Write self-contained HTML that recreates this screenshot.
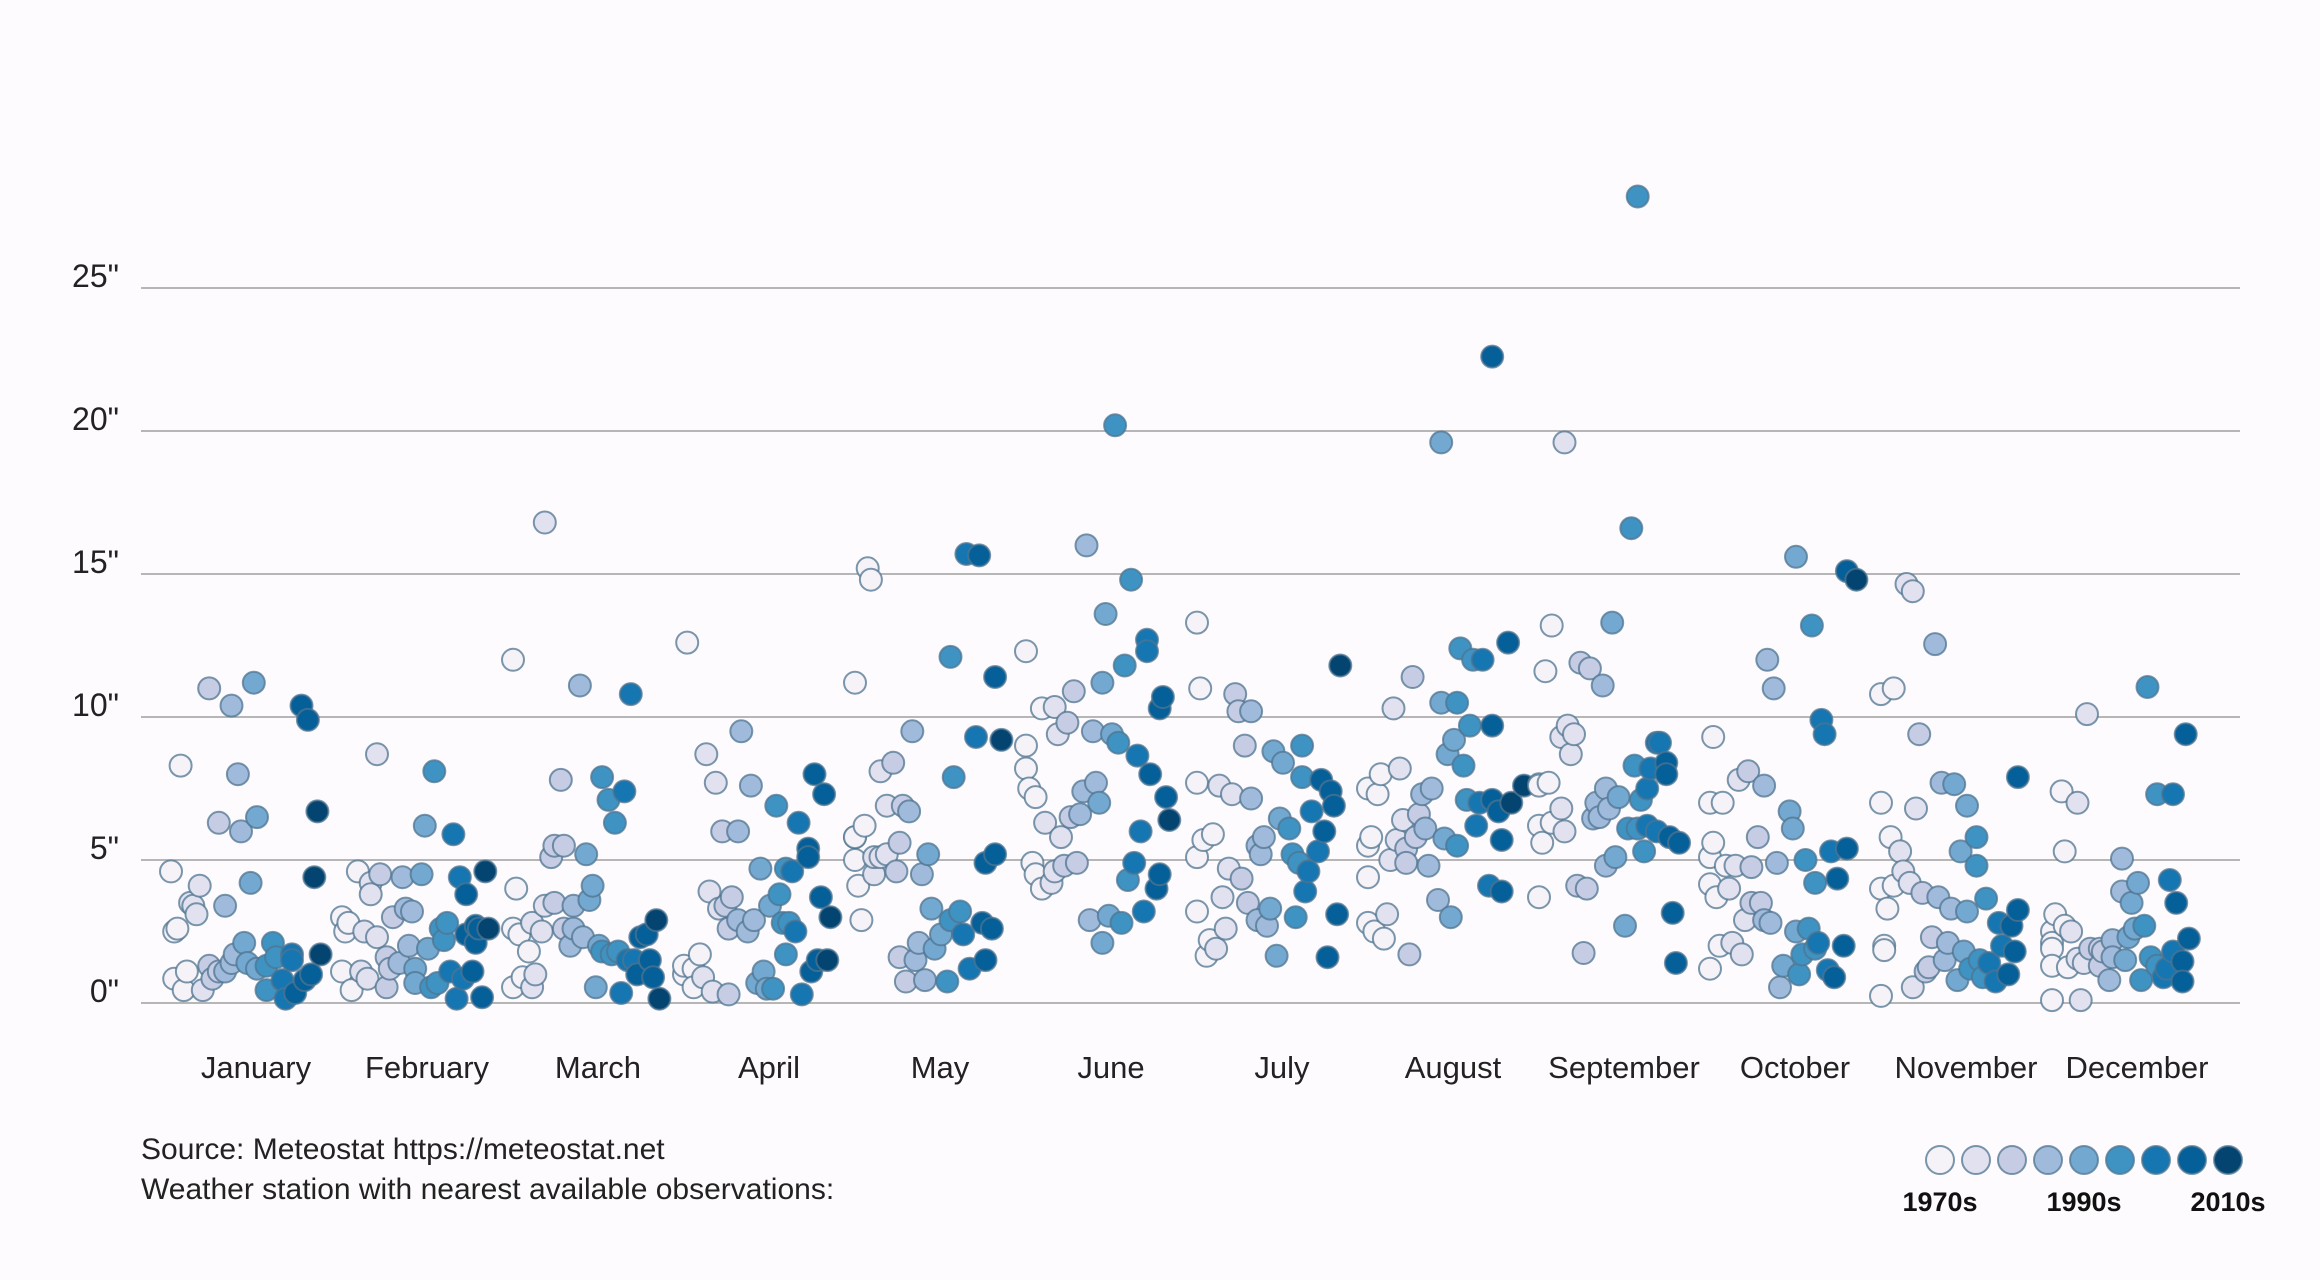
<!DOCTYPE html>
<html><head><meta charset="utf-8">
<style>
html,body{margin:0;padding:0;background:#fdfbfd;}
svg{display:block;font-family:"Liberation Sans",sans-serif;}
</style></head>
<body>
<svg id="chart" width="2320" height="1280" viewBox="0 0 2320 1280" xmlns="http://www.w3.org/2000/svg">
<rect width="2320" height="1280" fill="#fdfbfd"/>
<g id="grid"></g>
<g id="ylabels"></g>
<g id="xlabels"></g>
<g id="dots"></g>
<text x="141" y="1159" font-size="30" fill="#222">Source: Meteostat https://meteostat.net</text>
<text x="141" y="1199" font-size="30" fill="#222">Weather station with nearest available observations:</text>
<g id="legend"></g>
</svg>
<script>
const months = ["January","February","March","April","May","June","July","August","September","October","November","December"];
const yTicks = [0,5,10,15,20,25];
const yTickLabels = ['0"','5"','10"','15"','20"','25"'];
const shades = ["#f5f2f8","#e2e1ef","#c5cce4","#a0badb","#73a8d0","#3f93c3","#1676b1","#055f98","#034470"];
const legendLabels = ["1970s","1990s","2010s"];
// [year index since 1970, inches]
const jan = [[3,8.3],[12,11.0],[19,10.4],[26,11.2],[41,10.4],[43,9.9],[21,8.0],[15,6.3],[22,6.0],[27,6.5],[46,6.7],[0,4.6],[9,4.1],[25,4.2],[45,4.4],[17,3.4],[6,3.5],[7,3.4],[8,3.1],[2,2.6],[1,2.5],[47,1.7],[1,0.85],[5,1.1],[4,0.45],[10,0.45],[12,1.3],[15,1.1],[17,1.1],[19,1.4],[20,1.7],[23,2.1],[24,1.4],[27,1.2],[30,1.3],[32,2.1],[33,1.6],[30,0.45],[35,0.8],[36,0.15],[38,1.7],[39,0.35],[42,0.8],[44,1.0],[38,1.5],[13,0.85]];
const feb = [[11,8.7],[29,8.1],[26,6.2],[35,5.9],[5,4.6],[12,4.5],[9,4.2],[9,3.8],[19,4.4],[25,4.5],[37,4.4],[39,3.8],[45,4.6],[0,3.0],[2,2.8],[1,2.5],[7,2.5],[11,2.3],[16,3.0],[20,3.3],[22,3.2],[33,2.8],[31,2.6],[32,2.2],[39,2.4],[42,2.1],[46,2.6],[43,2.6],[42,2.7],[21,2.0],[27,1.9],[14,1.6],[15,1.2],[18,1.4],[23,1.2],[0,1.1],[6,1.1],[8,0.85],[3,0.45],[14,0.55],[23,0.7],[28,0.55],[30,0.7],[34,1.1],[38,0.85],[41,1.1],[36,0.15],[44,0.2]];
const mar = [[10,16.8],[0,12.0],[21,11.1],[37,10.8],[15,7.8],[28,7.9],[35,7.4],[30,7.1],[32,6.3],[12,5.1],[13,5.5],[16,5.5],[23,5.2],[25,4.1],[24,3.6],[1,4.0],[10,3.4],[13,3.5],[19,3.4],[0,2.6],[2,2.4],[6,2.8],[9,2.5],[5,1.8],[16,2.6],[19,2.6],[22,2.3],[18,2.0],[27,2.0],[28,1.8],[31,1.7],[33,1.8],[36,1.5],[38,1.5],[40,2.3],[42,2.4],[45,2.9],[43,1.5],[39,1.0],[44,0.9],[0,0.55],[3,0.9],[6,0.55],[7,1.0],[26,0.55],[34,0.35],[46,0.15]];
const apr = [[1,12.6],[18,9.5],[7,8.7],[10,7.7],[21,7.6],[29,6.9],[41,8.0],[44,7.3],[36,6.3],[39,5.4],[39,5.1],[32,4.7],[34,4.6],[24,4.7],[12,6.0],[17,6.0],[8,3.9],[11,3.3],[13,3.4],[15,3.7],[14,2.6],[17,2.9],[20,2.5],[22,2.9],[30,3.8],[27,3.4],[31,2.8],[33,2.8],[35,2.5],[43,3.7],[46,3.0],[32,1.7],[40,1.1],[42,1.5],[45,1.5],[0,1.0],[0,1.3],[3,1.2],[5,1.7],[6,0.9],[3,0.55],[9,0.4],[14,0.3],[23,0.7],[25,1.1],[26,0.5],[28,0.5],[37,0.3]];
const may = [[0,5.8],[4,15.2],[5,14.8],[0,11.2],[35,15.7],[39,15.65],[30,12.1],[44,11.4],[18,9.5],[38,9.3],[46,9.2],[12,8.4],[8,8.1],[31,7.9],[0,5.8],[3,6.2],[0,5.0],[1,4.1],[6,4.5],[6,5.1],[8,5.1],[10,5.2],[14,5.6],[13,4.6],[10,6.9],[15,6.9],[17,6.7],[23,5.2],[21,4.5],[41,4.9],[44,5.2],[2,2.9],[24,3.3],[20,2.1],[14,1.6],[19,1.5],[16,0.75],[22,0.8],[29,0.75],[25,1.9],[27,2.4],[30,2.9],[33,3.2],[34,2.4],[40,2.8],[43,2.6],[36,1.2],[41,1.5]];
const jun = [[28,20.2],[19,16.0],[33,14.8],[25,13.6],[38,12.7],[38,12.3],[31,11.8],[0,12.3],[24,11.2],[15,10.9],[43,10.7],[42,10.3],[5,10.3],[9,10.35],[13,9.8],[10,9.4],[21,9.5],[27,9.4],[29,9.1],[35,8.65],[39,8.0],[44,7.2],[45,6.4],[0,9.0],[0,8.2],[1,7.5],[3,7.2],[6,6.3],[11,5.8],[18,7.4],[22,7.7],[23,7.0],[14,6.5],[17,6.6],[36,6.0],[34,4.9],[32,4.3],[42,4.5],[41,4.0],[2,4.9],[3,4.5],[5,4.0],[8,4.2],[9,4.6],[12,4.8],[16,4.9],[20,2.9],[26,3.05],[30,2.8],[37,3.2],[24,2.1]];
const jul = [[0,13.3],[1,11.0],[12,10.8],[13,10.2],[17,10.2],[45,11.8],[15,9.0],[24,8.8],[27,8.4],[33,9.0],[33,7.9],[39,7.8],[42,7.4],[43,6.9],[36,6.7],[0,7.7],[7,7.6],[11,7.3],[17,7.15],[26,6.45],[29,6.1],[21,5.8],[19,5.5],[20,5.2],[30,5.2],[32,4.9],[35,4.6],[38,5.3],[40,6.0],[34,3.9],[5,5.9],[2,5.7],[0,5.1],[10,4.7],[14,4.35],[8,3.7],[16,3.5],[23,3.3],[19,2.9],[22,2.7],[31,3.0],[44,3.1],[0,3.2],[9,2.6],[4,2.2],[6,1.9],[3,1.65],[25,1.65],[41,1.6]];
const aug = [[23,19.6],[39,22.6],[0,5.5],[1,5.8],[0,4.4],[0,7.5],[3,7.3],[4,8.0],[10,8.2],[8,10.3],[14,11.4],[11,6.4],[16,6.6],[17,7.3],[20,7.5],[9,5.7],[12,5.4],[15,5.8],[18,6.1],[7,5.0],[12,4.9],[19,4.8],[24,5.75],[28,5.5],[0,2.8],[2,2.5],[6,3.1],[5,2.25],[13,1.7],[22,3.6],[26,3.0],[23,10.5],[28,10.5],[29,12.4],[33,12.0],[36,12.0],[44,12.6],[32,9.7],[39,9.7],[27,9.2],[25,8.7],[30,8.3],[31,7.1],[35,7.0],[39,7.1],[41,6.7],[45,7.0],[34,6.2],[42,5.7],[38,4.1],[42,3.9],[49,7.6]];
const sep = [[31,28.2],[8,19.6],[29,16.6],[4,13.2],[2,11.6],[23,13.3],[13,11.9],[16,11.7],[20,11.1],[9,9.7],[7,9.3],[11,9.4],[10,8.7],[0,7.65],[0,7.6],[3,7.7],[7,6.8],[4,6.3],[8,6.0],[0,6.2],[1,5.6],[0,3.7],[21,7.5],[18,7.0],[25,7.2],[22,6.8],[19,6.5],[17,6.45],[30,8.3],[37,9.1],[38,9.1],[40,8.4],[40,8.0],[35,8.2],[34,7.5],[32,7.1],[28,6.1],[31,6.1],[34,6.2],[37,6.0],[41,5.8],[44,5.6],[33,5.3],[24,5.1],[21,4.8],[12,4.1],[15,4.0],[27,2.7],[14,1.75],[42,3.15],[43,1.4]];
const oct = [[27,15.6],[43,15.1],[46,14.8],[1,9.3],[0,7.0],[4,7.0],[9,7.8],[12,8.1],[17,7.6],[1,5.6],[0,5.1],[5,4.8],[8,4.8],[13,4.75],[15,5.8],[0,4.15],[2,3.7],[6,4.0],[13,3.5],[16,3.5],[11,2.9],[17,2.9],[19,2.8],[3,2.0],[7,2.1],[10,1.7],[0,1.2],[18,12.0],[20,11.0],[32,13.2],[35,9.9],[36,9.4],[25,6.7],[26,6.1],[21,4.9],[30,5.0],[33,4.2],[38,5.3],[43,5.4],[40,4.35],[27,2.5],[31,2.6],[34,2.1],[33,1.9],[29,1.7],[23,1.3],[28,1.0],[22,0.55],[37,1.15],[39,0.9],[42,2.0]];
const nov = [[0,0.25],[1,2.0],[8,14.65],[10,14.4],[17,12.55],[4,11.0],[0,10.8],[12,9.4],[19,7.7],[23,7.65],[27,6.9],[11,6.8],[0,7.0],[43,7.9],[30,5.8],[25,5.3],[30,4.8],[3,5.8],[6,5.3],[7,4.6],[9,4.2],[4,4.1],[0,4.0],[2,3.3],[13,3.85],[18,3.7],[22,3.3],[27,3.2],[33,3.65],[37,2.8],[43,3.25],[41,2.7],[1,1.85],[16,2.3],[21,2.1],[26,1.8],[20,1.5],[15,1.25],[14,1.1],[24,0.8],[10,0.55],[28,1.2],[31,1.5],[34,1.4],[32,0.9],[36,0.75],[38,2.0],[42,1.8],[40,1.0]];
const dec = [[0,0.1],[9,0.1],[3,7.4],[8,7.0],[11,10.1],[4,5.3],[1,3.1],[4,2.7],[6,2.5],[0,2.5],[0,2.1],[0,1.9],[0,1.3],[5,1.25],[8,1.55],[10,1.4],[12,1.9],[15,1.9],[16,1.8],[19,2.2],[15,1.3],[19,1.6],[23,1.5],[18,0.8],[22,5.05],[27,4.2],[22,3.9],[25,3.5],[24,2.3],[26,2.6],[29,2.7],[30,11.05],[33,7.3],[38,7.3],[42,9.4],[37,4.3],[39,3.5],[43,2.25],[28,0.8],[31,1.6],[33,1.3],[35,0.9],[36,1.2],[38,1.8],[41,1.45],[41,0.75]];
const monthData = [jan,feb,mar,apr,may,jun,jul,aug,sep,oct,nov,dec];

const NS = "http://www.w3.org/2000/svg";
const X0 = 171, MW = 171, SPAN = 156, Y0 = 1003, PPI = 28.6;
function xScale(m, yi){ return X0 + MW*m + Math.max(0,Math.min(49,yi))/49*SPAN; }
function yScale(v){ return Y0 - v*PPI; }
function shadeOf(yi){ return shades[Math.min(8, Math.floor(Math.max(0,yi)*9/50))]; }
function mk(tag, attrs, parent){
  const e = document.createElementNS(NS, tag);
  for (const k in attrs) e.setAttribute(k, attrs[k]);
  parent.appendChild(e); return e;
}
const grid = document.getElementById('grid');
const yl = document.getElementById('ylabels');
yTicks.forEach((t,i)=>{
  const l = mk('line',{x1:141,x2:2240,y1:yScale(t),y2:yScale(t),stroke:'#a0a0a0','stroke-width':1.5}, grid);
  
  
  const tx = mk('text',{x:119,y:yScale(t)-1,'text-anchor':'end','font-size':32,fill:'#222'}, yl);
  tx.textContent = yTickLabels[i];
  
  
});
const xl = document.getElementById('xlabels');
months.forEach((m,i)=>{
  const tx = mk('text',{x:256+MW*i,y:1078,'text-anchor':'middle','font-size':31,fill:'#222'}, xl);
  tx.textContent = m;
  
  
});
const dots = document.getElementById('dots');
monthData.forEach((arr,m)=>{
  arr.slice().sort((a,b)=>a[0]-b[0]).forEach(p=>{
    const c = mk('circle',{cx:xScale(m,p[0]).toFixed(1),cy:yScale(p[1]).toFixed(1),r:11,fill:shadeOf(p[0]),stroke:'#4f7490','stroke-opacity':0.75,'stroke-width':2}, dots);
    
    
  });
});
const lg = document.getElementById('legend');
shades.forEach((s,i)=>{
  const c = mk('circle',{cx:1940+36*i,cy:1160,r:14,fill:s,stroke:'#4f7490','stroke-opacity':0.75,'stroke-width':2}, lg);
  
  
});
legendLabels.forEach((t,i)=>{
  const tx = mk('text',{x:1940+144*i,y:1211,'text-anchor':'middle','font-size':27,'font-weight':'bold',fill:'#111'}, lg);
  tx.textContent = t;
  
  
});
</script>
</body></html>
